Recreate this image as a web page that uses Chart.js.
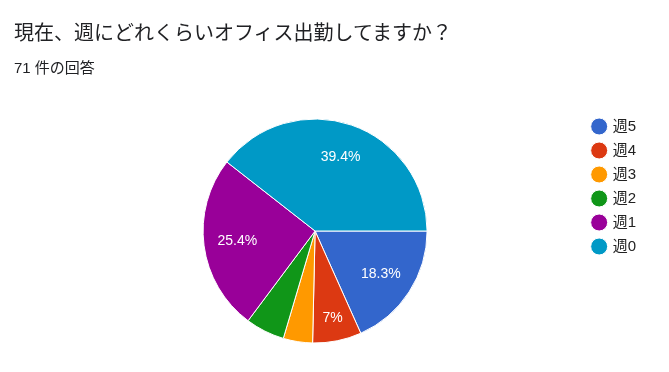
<!DOCTYPE html>
<html>
<head>
<meta charset="utf-8">
<script src="https://cdn.jsdelivr.net/npm/chart.js@4"></script>
<style>
  html, body { margin: 0; padding: 0; background: #fff; }
  body { width: 669px; height: 372px; position: relative; overflow: hidden;
         font-family: "Liberation Sans", Arial, "Noto Sans CJK JP", sans-serif; }
  #title { position: absolute; left: 14px; top: 17px; font-size: 20px; color: #202124; white-space: nowrap; }
  #sub { position: absolute; left: 14px; top: 56px; font-size: 15px; color: #202124; white-space: nowrap; }
  #wrap { position: absolute; left: 0; top: 0; width: 669px; height: 372px; }
</style>
</head>
<body>
<div id="wrap"><canvas id="stage"></canvas></div>
<div id="title">現在、週にどれくらいオフィス出勤してますか？</div>
<div id="sub">71 件の回答</div>
<script>
// 回答数 (合計71件)
const labels = ['週5', '週4', '週3', '週2', '週1', '週0'];
const counts = [13, 5, 3, 4, 18, 28];
const colors = ['#3366cc', '#dc3912', '#ff9900', '#109618', '#990099', '#0099c6'];

const FONT = '"Liberation Sans", Arial, "Noto Sans CJK JP", sans-serif';

// スライス内のパーセント表示
const pctLabels = {
  id: 'pctLabels',
  afterDatasetsDraw(chart) {
    const ctx = chart.ctx;
    const meta = chart.getDatasetMeta(0);
    const total = counts.reduce((a, b) => a + b, 0);
    ctx.save();
    ctx.fillStyle = '#fff';
    ctx.font = '14px ' + FONT;
    ctx.textAlign = 'center';
    ctx.textBaseline = 'middle';
    meta.data.forEach((arc, i) => {
      const pct = counts[i] / total * 100;
      if (pct < 6) return;
      let txt = (Math.round(pct * 10) / 10).toFixed(1);
      if (txt.endsWith('.0')) txt = txt.slice(0, -2);
      const mid = (arc.startAngle + arc.endAngle) / 2;
      const r = arc.outerRadius * (pct < 10 ? 0.79 : 0.7);
      ctx.fillText(txt + '%', arc.x + Math.cos(mid) * r, arc.y + Math.sin(mid) * r);
    });
    ctx.restore();
  }
};

new Chart(document.getElementById('stage'), {
  type: 'pie',
  data: {
    labels: labels,
    datasets: [{
      data: counts,
      backgroundColor: colors,
      borderColor: '#fff',
      borderWidth: 1,
      radius: 112
    }]
  },
  options: {
    responsive: true,
    maintainAspectRatio: false,
    animation: false,
    rotation: 90,
    layout: { padding: { top: 110, bottom: 20, left: 46, right: 23 } },
    plugins: {
      tooltip: { enabled: false },
      legend: {
        position: 'right',
        align: 'start',
        labels: {
          usePointStyle: true,
          pointStyle: 'circle',
          boxWidth: 12,
          boxHeight: 12,
          padding: 9,
          color: '#222',
          font: { family: FONT, size: 15 }
        }
      }
    }
  },
  plugins: [pctLabels]
});
</script>
</body>
</html>
